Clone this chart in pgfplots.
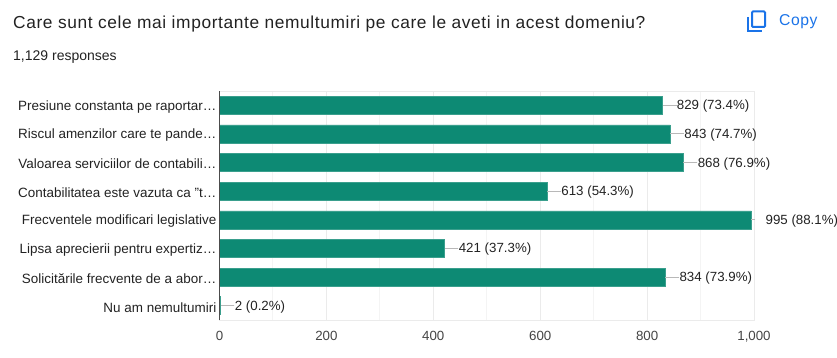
\documentclass[border=0pt]{standalone}
\usepackage{fontspec}
\setmainfont{Liberation Sans}
\newfontfamily\titlefont[LetterSpace=3.5]{Liberation Sans}
\usepackage{pgfplots}
\pgfplotsset{compat=1.18}
\definecolor{barc}{HTML}{0D8A74}
\definecolor{baredge}{HTML}{3A9F8D}
\definecolor{txt}{HTML}{222222}
\definecolor{ticktxt}{HTML}{444444}
\definecolor{gridmaj}{HTML}{EBEBEB}
\definecolor{gridmin}{HTML}{F4F4F4}
\definecolor{blueg}{HTML}{1A73E8}
\begin{document}
\begin{tikzpicture}[x=1pt,y=1pt]
\path[use as bounding box] (0,0) rectangle (837,357);
\node[anchor=base west,inner sep=0pt,text=txt,font=\titlefont\fontsize{17.35}{20}\selectfont] at (13,357-29) {Care sunt cele mai importante nemultumiri pe care le aveti in acest domeniu?};
\node[anchor=base west,inner sep=0pt,text=txt,font=\fontsize{14}{16}\selectfont] at (13,357-60) {1,129 responses};
\node[anchor=base west,inner sep=0pt,text=blueg,font=\titlefont\fontsize{15.7}{18}\selectfont] at (779,357-26) {Copy};
\draw[blueg,line width=2pt,rounded corners=1pt] (752,357-11.5) rectangle (765,357-27);
\draw[blueg,line width=2pt] (747.5,357-17) -- (747.5,357-31.5) -- (762,357-31.5);
\begin{axis}[
  at={(219.5pt,37pt)},anchor=south west,
  width=534.5pt,height=229pt,scale only axis,
  xbar,bar width=18pt,clip=false,
  xmin=0,xmax=1000,ymin=-0.5,ymax=7.5,y dir=reverse,
  xtick={0,200,400,600,800,1000},
  minor xtick={100,300,500,700,900},
  ytick={0,1,2,3,4,5,6,7},
  yticklabels={Presiune constanta pe raportar…,Riscul amenzilor care te pande…,Valoarea serviciilor de contabili…,Contabilitatea este vazuta ca "t…,Frecventele modificari legislative,Lipsa aprecierii pentru expertiz…,Solicitările frecvente de a abor…,Nu am nemultumiri},
  major tick length=0pt,minor tick length=0pt,
  axis line style={draw=gridmaj,line width=1pt},
  xmajorgrids,xminorgrids,
  major grid style={draw=gridmaj,line width=1pt},
  minor grid style={draw=gridmin,line width=1pt},
  /pgf/number format/assume math mode=true,
  /pgf/number format/1000 sep={,},
  xticklabel style={font=\fontsize{13.3}{16}\selectfont,text=ticktxt,yshift=-8pt},
  yticklabel style={font=\fontsize{13.45}{16}\selectfont,text=txt,inner sep=0pt,xshift=-3pt,yshift=-1.5pt},
  point meta=explicit symbolic,
  nodes near coords,
  every node near coord/.append style={font=\fontsize{13.3}{16}\selectfont,text=txt,anchor=west,xshift=14pt,yshift=-1pt,inner sep=0pt},
  error bars/x dir=plus,error bars/x explicit,
  error bars/error mark=none,
  error bars/error bar style={draw=black!28,line width=1pt},
]
\addplot[fill=barc,draw=baredge,line width=0.6pt] coordinates {
  (829,0) +- (26,0) [829 (73.4\%)]
  (843,1) +- (26,0) [843 (74.7\%)]
  (868,2) +- (26,0) [868 (76.9\%)]
  (613,3) +- (26,0) [613 (54.3\%)]
  (995,4) +- (7,0) [995 (88.1\%)]
  (421,5) +- (26,0) [421 (37.3\%)]
  (834,6) +- (26,0) [834 (73.9\%)]
  (2,7) +- (26,0) [2 (0.2\%)]
};
\draw[black!70,line width=1pt] (axis cs:0,-0.5) -- (axis cs:0,7.5);
\end{axis}
\end{tikzpicture}
\end{document}
